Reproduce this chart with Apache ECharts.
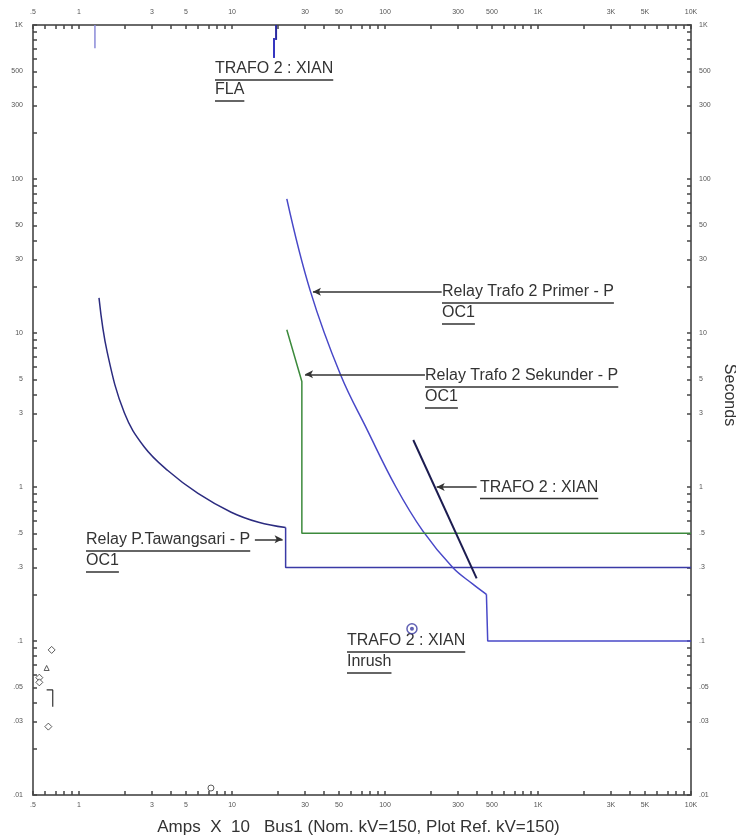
<!DOCTYPE html>
<html><head><meta charset="utf-8">
<script src="https://cdn.jsdelivr.net/npm/echarts@6/dist/echarts.min.js"></script>
<style>html,body{margin:0;padding:0;background:#fff}#c{width:736px;height:839px}</style>
</head><body><div id="c"></div>
<script>
// ---- data (amps x10, seconds) ----
const xTickLabels = [0.5,1,3,5,10,30,50,100,300,500,1000,3000,5000,10000];
const yTickLabels = [0.01,0.03,0.05,0.1,0.3,0.5,1,3,5,10,30,50,100,300,500,1000];

const tawangsariCurve = [[1.35,16.9],[1.53,7.45],[1.98,3.02],[2.67,1.82],[3.80,1.28],[5.99,0.908],[9.87,0.686],[14.9,0.590],[22.4,0.545]];
const tawangsariStep = [[22.4,0.545],[22.4,0.3],[10000,0.3]];
const primerCurve = [[22.8,74.3],[32.5,18.7],[51.2,5.35],[76.6,2.34],[117.8,1.0],[176,0.521],[277,0.300],[375,0.234],[460,0.201]];
const primerStep = [[460,0.201],[469,0.2],[469,0.1],[10000,0.1]];
const sekunderCurve = [[22.8,10.5],[28.6,4.84],[28.6,0.5],[10000,0.5]];
const trafoDamage = [[153,2.02],[397,0.255]];
const trafoFLA = [[19.4,1000],[19.4,800]];
const trafoFLA2 = [[18.8,823],[18.8,611]];
const topTrace = [[1.27,1000],[1.27,706]];
const trafoInrush = [[150,0.12]];
const smallDiamonds = [[0.662,0.0875],[0.55,0.0578],[0.55,0.0539],[0.63,0.0278]];
const smallTriangles = [[0.614,0.0668]];
const bracketTrace = [[0.614,0.0481],[0.673,0.0481],[0.673,0.0374]];
const bottomMark = [[7.28,0.0111]];

// annotation arrows: [tail, tip] in data units
const arrowPrimer = [[234.6,18.5],[33.8,18.5]];
const arrowSekunder = [[182.4,5.39],[30.0,5.39]];
const arrowDamage = [[397,1.0],[217.6,1.0]];
const arrowTawangsari = [[14.1,0.4575],[21.4,0.4575]];

const labelTexts = [
  ['TRAFO 2 : XIAN','FLA'],
  ['Relay Trafo 2 Primer - P','OC1'],
  ['Relay Trafo 2 Sekunder - P','OC1'],
  ['TRAFO 2 : XIAN'],
  ['Relay P.Tawangsari - P','OC1'],
  ['TRAFO 2 : XIAN','Inrush']
];
const labelPos = [[215,69],[442,292],[425,376],[480,487.5],[86,540],[347,641]];

function decadeTicks(lo, hi){
  const out=[];
  for(let k=-3;k<=4;k++){for(let m=1;m<=9;m++){const v=Number((m*Math.pow(10,k)).toPrecision(6)); if(v>=lo-1e-9&&v<=hi+1e-9) out.push(v);}}
  return out;
}
const xMinor = decadeTicks(0.5,10000);
const yMinor = decadeTicks(0.01,1000);

function fmt(v){
  v = Number(Number(v).toPrecision(6));
  if (v>=1000) return (v/1000)+'K';
  if (v<1) return String(v).replace(/^0/,'');
  return String(v);
}

const FAM = '"Liberation Sans", Arial, sans-serif';
const FONT = '16px ' + FAM;
const ctx = document.createElement('canvas').getContext('2d');
ctx.font = FONT;

const graphics = [];
labelTexts.forEach((lines, i) => {
  const [x0,y0] = labelPos[i];
  lines.forEach((t, j) => {
    const y = y0 + j*21;
    const w = ctx.measureText(t).width;
    graphics.push({type:'text', x:x0, y:y, style:{text:t, font:FONT, fill:'#333', verticalAlign:'middle', align:'left'}});
    graphics.push({type:'line', shape:{x1:x0,y1:y+11,x2:x0+w,y2:y+11}, style:{stroke:'#333', lineWidth:1.5}});
  });
});

const axisCommon = {
  type:'log', logBase:10,
  axisLine:{show:true, onZero:false, lineStyle:{color:'#6a6a6a', width:2}},
  axisTick:{show:true, inside:true, length:4, lineStyle:{color:'#444', width:1.5}},
  splitLine:{show:false},
  minorTick:{show:false},
  axisLabel:{fontSize:7, color:'#555', fontFamily:FAM, formatter:fmt}
};

function xAx(pos, margin){
  return Object.assign({}, axisCommon, {
    position:pos, min:0.5, max:10000,
    axisTick:Object.assign({}, axisCommon.axisTick, {customValues:xMinor}),
    axisLabel:Object.assign({}, axisCommon.axisLabel, {customValues:xTickLabels, margin:margin})
  });
}
function yAx(pos, margin){
  return Object.assign({}, axisCommon, {
    position:pos, min:0.01, max:1000,
    axisTick:Object.assign({}, axisCommon.axisTick, {customValues:yMinor}),
    axisLabel:Object.assign({}, axisCommon.axisLabel, {customValues:yTickLabels, margin:margin})
  });
}

const xBottom = xAx('bottom', 7);
xBottom.name = 'Amps  X  10   Bus1 (Nom. kV=150, Plot Ref. kV=150)';
xBottom.nameLocation = 'middle';
xBottom.nameGap = 24;
xBottom.nameTextStyle = {fontSize:17, color:'#333', fontFamily:FAM, padding:[0,7,0,0]};
const yRight = yAx('right', 8);
yRight.name = 'Seconds';
yRight.nameLocation = 'middle';
yRight.nameRotate = -90;
yRight.nameGap = 29;
yRight.nameTextStyle = {fontSize:16, color:'#333', fontFamily:FAM, padding:[0,30,0,0]};

function lineSeries(name, data, color, width, smooth){
  return {name, type:'line', data, showSymbol:false, symbol:'none', smooth:smooth||false,
    lineStyle:{color, width:width||1.5}, itemStyle:{color}, animation:false, z:3};
}
function arrow(coords){
  return {type:'line', data:[], symbol:'none', animation:false,
    markLine:{silent:true, symbol:['none','arrow'], symbolSize:[6,8], label:{show:false}, lineStyle:{color:'#333', width:1.5, type:'solid'},
      data:[[{coord:coords[0]},{coord:coords[1]}]]}};
}

const chart = echarts.init(document.getElementById('c'), null, {renderer:'canvas'});
chart.setOption({
  animation:false,
  backgroundColor:'#fff',
  grid:{left:33, right:45, top:25, bottom:44, containLabel:false, outerBoundsMode:'none'},
  xAxis:[xBottom, xAx('top', 9)],
  yAxis:[yAx('left', 10), yRight],
  series:[
    lineSeries('Relay P.Tawangsari - P OC1', tawangsariCurve, '#2c2c80', 1.5, 0.4),
    lineSeries('Relay P.Tawangsari - P OC1 step', tawangsariStep, '#3a3aa6', 1.5),
    lineSeries('Relay Trafo 2 Primer - P OC1', primerCurve, '#4848c8', 1.5, 0.4),
    lineSeries('Relay Trafo 2 Primer - P OC1 step', primerStep, '#4848c8', 1.5),
    lineSeries('Relay Trafo 2 Sekunder - P OC1', sekunderCurve, '#3c8a3c', 1.5),
    lineSeries('TRAFO 2 : XIAN', trafoDamage, '#1c1c50', 2),
    lineSeries('TRAFO 2 : XIAN FLA', trafoFLA, '#2a2aa0', 2),
    lineSeries('TRAFO 2 : XIAN FLA b', trafoFLA2, '#3636c0', 2),
    lineSeries('trace', topTrace, '#8a8ad8', 1.5),
    lineSeries('bracket', bracketTrace, '#333', 1.2),
    {type:'scatter', data:trafoInrush, symbol:'circle', symbolSize:10, itemStyle:{color:'#fff', borderColor:'#3a3aa0', borderWidth:1.5}, animation:false, z:4},
    {type:'scatter', data:trafoInrush, symbol:'circle', symbolSize:4, itemStyle:{color:'#3a3aa0'}, animation:false, z:5},
    {type:'scatter', data:smallDiamonds, symbol:'diamond', symbolSize:7, itemStyle:{color:'#fff', borderColor:'#333', borderWidth:1}, animation:false},
    {type:'scatter', data:smallTriangles, symbol:'triangle', symbolSize:5, itemStyle:{color:'#fff', borderColor:'#333', borderWidth:1}, animation:false},
    {type:'scatter', data:bottomMark, symbol:'circle', symbolSize:6, itemStyle:{color:'#fff', borderColor:'#333', borderWidth:1}, animation:false},
    arrow(arrowPrimer), arrow(arrowSekunder), arrow(arrowDamage), arrow(arrowTawangsari)
  ],
  graphic: graphics
});
</script></body></html>
